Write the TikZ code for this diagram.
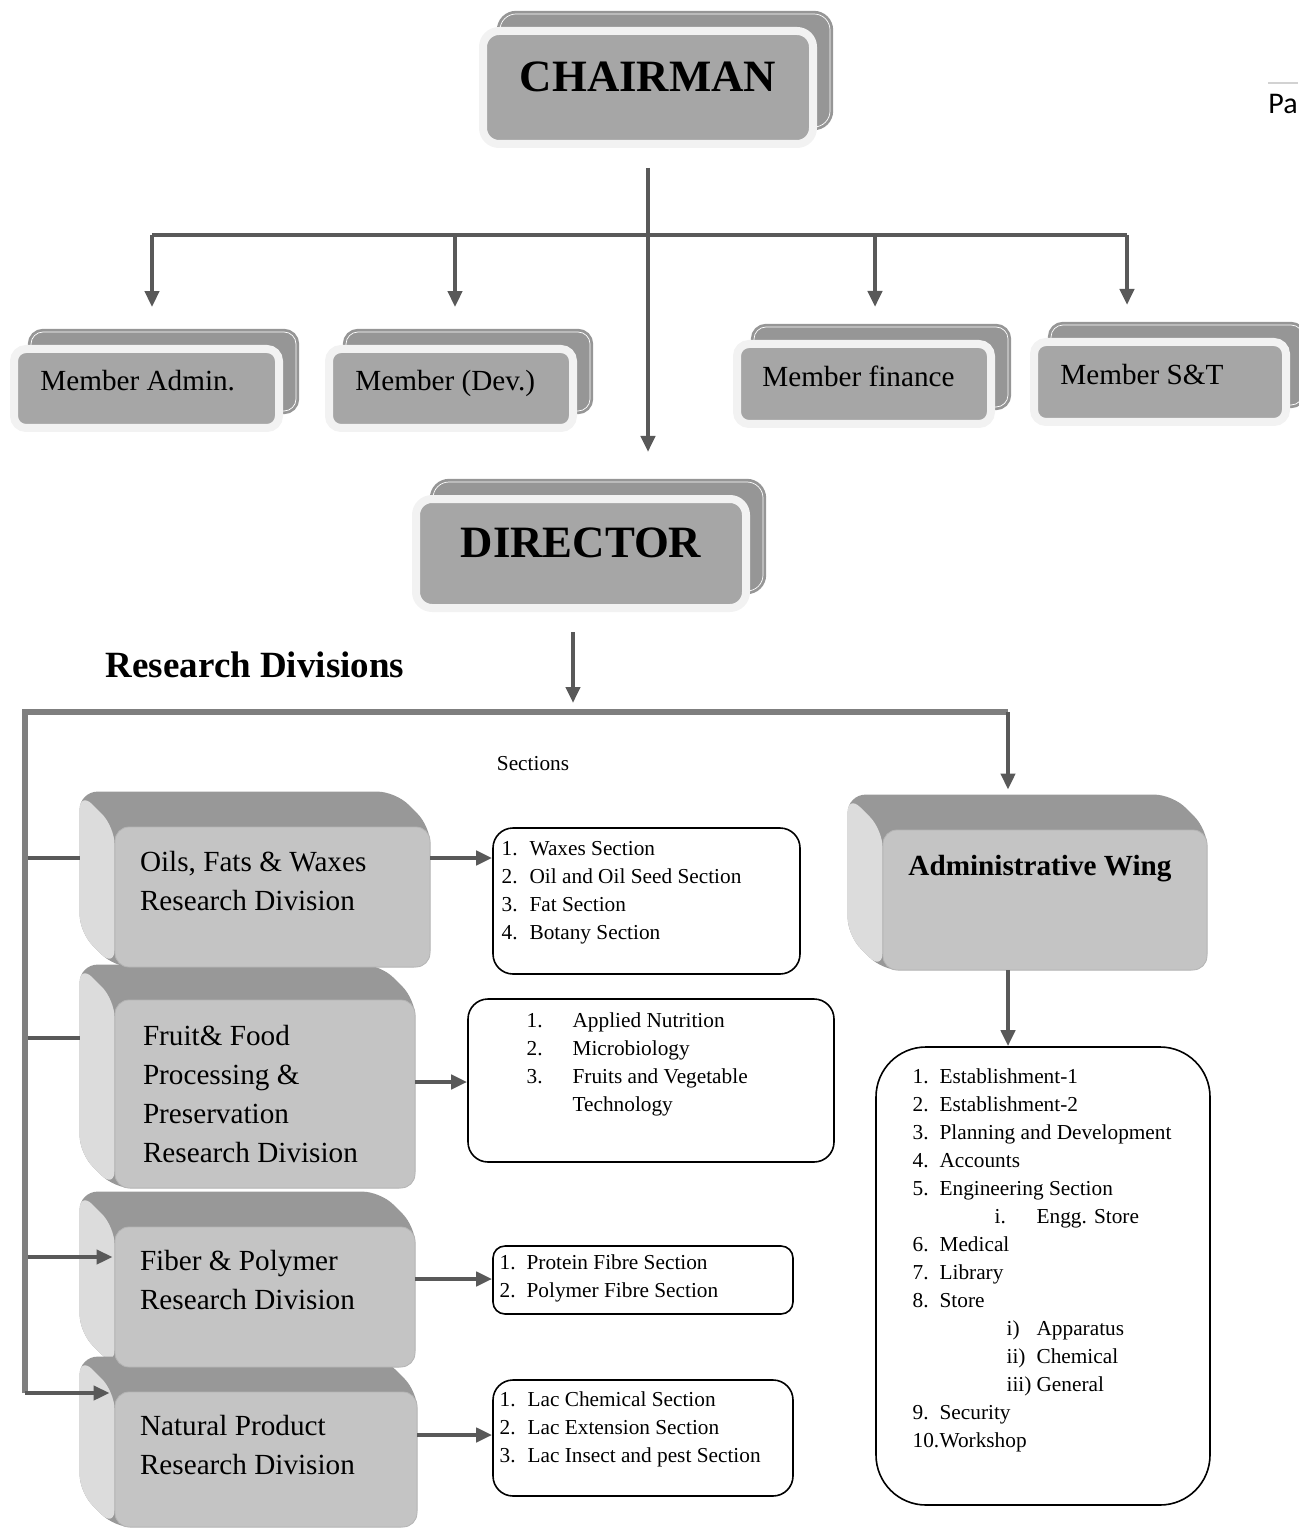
\documentclass[tikz,border=0pt]{standalone}
\usepackage{fontspec}
\setmainfont{Liberation Serif}
\newfontfamily\hdrfont{Carlito}
\usepackage{tikz}
\usetikzlibrary{arrows.meta,backgrounds,positioning}

\definecolor{linegray}{HTML}{595959}
\definecolor{railgray}{HTML}{7F7F7F}
\definecolor{backgray}{HTML}{969696}
\definecolor{frontgray}{HTML}{A6A6A6}
\definecolor{rimgray}{HTML}{F2F2F2}
\definecolor{topgray}{HTML}{989898}
\definecolor{sidegray}{HTML}{DCDCDC}
\definecolor{facegray}{HTML}{C4C4C4}

\tikzset{
  link/.style={draw=linegray, line width=2pt},
  rail/.style={draw=railgray, line width=3pt},
  backbox/.style={rectangle, rounded corners=6pt, inner sep=0pt, fill=backgray, draw=backgray, double=white, double distance=0.35pt, line width=1.4pt},
  frontbox/.style={rectangle, rounded corners=6pt, inner sep=0pt, fill=frontgray, draw=rimgray, line width=4pt},
  divface/.style={rectangle, rounded corners=7pt, inner sep=0pt, fill=facegray, draw=facegray!92!black, line width=0.4pt},
  seclist/.style={rectangle, rounded corners=10pt, inner sep=0pt, fill=white, draw=black, line width=0.8pt},
  bigtitle/.style={font=\fontsize{22.4}{27}\selectfont\bfseries, inner sep=0pt},
  boxtext/.style={font=\fontsize{14.6}{19.5}\selectfont, align=left, inner sep=0pt},
  listtext/.style={font=\fontsize{10.65}{14}\selectfont, align=left, inner sep=0pt, anchor=north west},
}
\newcommand{\itemno}[2][14pt]{\makebox[#1][l]{#2}}

\begin{document}
\begin{tikzpicture}[x=0.5pt, y=-0.5pt, >={Triangle[length=8pt,width=7pt]}]
\useasboundingbox (0,0) rectangle (1298,1529);

% chairman and members
\node[backbox, minimum width=165pt, minimum height=56.5pt, rounded corners=8pt] (chairback) at (665,70.5) {};
\node[frontbox, minimum width=165pt, minimum height=56.5pt, rounded corners=8pt] (chair) at ([shift={(-17,17)}]chairback) {};
\node[bigtitle] (chairtxt) at ([shift={(0,-10.5)}]chair) {CHAIRMAN};

\node[backbox, minimum width=132.5pt, minimum height=39.5pt] (adminback) at (163.5,371.5) {};
\node[frontbox, minimum width=132.5pt, minimum height=39.5pt] (admin) at ([shift={(-17,17)}]adminback) {};
\node[boxtext, anchor=base west] (admintxt) at ([shift={(30,2.5)}]admin.west) {Member Admin.};

\node[backbox, minimum width=122pt, minimum height=39.5pt] (devback) at (468,371.5) {};
\node[frontbox, minimum width=122pt, minimum height=39.5pt] (dev) at ([shift={(-17,17)}]devback) {};
\node[boxtext, anchor=base west] (devtxt) at ([shift={(30,2.5)}]dev.west) {Member (Dev.)};

\node[backbox, minimum width=127pt, minimum height=40pt] (finback) at (881,367) {};
\node[frontbox, minimum width=127pt, minimum height=40pt] (fin) at ([shift={(-17,17)}]finback) {};
\node[boxtext, anchor=base west] (fintxt) at ([shift={(29,3)}]fin.west) {Member finance};

\node[backbox, minimum width=126pt, minimum height=40pt] (stback) at (1177,365) {};
\node[frontbox, minimum width=126pt, minimum height=40pt] (st) at ([shift={(-17,17)}]stback) {};
\node[boxtext, anchor=base west] (sttxt) at ([shift={(30,3)}]st.west) {Member S\&T};

\node[backbox, minimum width=165pt, minimum height=54.5pt, rounded corners=8pt] (dirback) at (598,536.5) {};
\node[frontbox, minimum width=165pt, minimum height=54.5pt, rounded corners=8pt] (dir) at ([shift={(-17,17)}]dirback) {};
\node[bigtitle] (dirtxt) at ([shift={(0,-10.5)}]dir) {DIRECTOR};

\coordinate (b1) at (152,235);
\coordinate (b2) at (455,235);
\coordinate (b3) at (875,235);
\coordinate (b4) at (1127,235);
\draw[link] (b1) -- (b4);
\draw[link,->,shorten >=11.75pt] (b1) -- (b1 |- adminback.north);
\draw[link,->,shorten >=11.75pt] (b2) -- (b2 |- devback.north);
\draw[link,->,shorten >=9.3pt] (b3) -- (b3 |- finback.north);
\draw[link,->,shorten >=9.3pt] (b4) -- (b4 |- stback.north);
\draw[link,->,shorten <=10pt,shorten >=14.3pt] (chair.south) -- (chair.south |- dirback.north);

% divisions
\node[font=\fontsize{18.5}{22}\selectfont\bfseries, inner sep=0pt] (rdlabel) at (255,665) {Research Divisions};
\node[font=\fontsize{10.65}{13}\selectfont, inner sep=0pt] (seclabel) at (533,764) {Sections};

\node[divface, minimum width=157.5pt, minimum height=70pt] (oils) at (272.5,897) {};
\node[divface, minimum width=150pt, minimum height=94pt] (fruit) at (265,1094) {};
\node[divface, minimum width=150pt, minimum height=70pt] (fiber) at (265,1297) {};
\node[divface, minimum width=151pt, minimum height=67.5pt] (nat) at (266,1459.5) {};
\node[divface, minimum width=162pt, minimum height=70pt] (wing) at (1045,900) {};

\begin{scope}[on background layer]
\fill[topgray, rounded corners=9pt] ([shift={(-17.5pt,17.5pt)}]oils.north west) -- ([shift={(-17.5pt,17.5pt)}]oils.north east) -- (oils.north east) -- (oils.south east) -- (oils.south west) -- ([shift={(-17.5pt,17.5pt)}]oils.south west) -- cycle;
\fill[sidegray, rounded corners=9pt] ([shift={(-17.5pt,17.5pt)}]oils.north west) -- (oils.north west) -- (oils.south west) -- ([shift={(-17.5pt,17.5pt)}]oils.south west) -- cycle;
\fill[topgray, rounded corners=9pt] ([shift={(-17.5pt,17.5pt)}]fruit.north west) -- ([shift={(-17.5pt,17.5pt)}]fruit.north east) -- (fruit.north east) -- (fruit.south east) -- (fruit.south west) -- ([shift={(-17.5pt,17.5pt)}]fruit.south west) -- cycle;
\fill[sidegray, rounded corners=9pt] ([shift={(-17.5pt,17.5pt)}]fruit.north west) -- (fruit.north west) -- (fruit.south west) -- ([shift={(-17.5pt,17.5pt)}]fruit.south west) -- cycle;
\fill[topgray, rounded corners=9pt] ([shift={(-17.5pt,17.5pt)}]fiber.north west) -- ([shift={(-17.5pt,17.5pt)}]fiber.north east) -- (fiber.north east) -- (fiber.south east) -- (fiber.south west) -- ([shift={(-17.5pt,17.5pt)}]fiber.south west) -- cycle;
\fill[sidegray, rounded corners=9pt] ([shift={(-17.5pt,17.5pt)}]fiber.north west) -- (fiber.north west) -- (fiber.south west) -- ([shift={(-17.5pt,17.5pt)}]fiber.south west) -- cycle;
\fill[topgray, rounded corners=9pt] ([shift={(-17.5pt,17.5pt)}]nat.north west) -- ([shift={(-17.5pt,17.5pt)}]nat.north east) -- (nat.north east) -- (nat.south east) -- (nat.south west) -- ([shift={(-17.5pt,17.5pt)}]nat.south west) -- cycle;
\fill[sidegray, rounded corners=9pt] ([shift={(-17.5pt,17.5pt)}]nat.north west) -- (nat.north west) -- (nat.south west) -- ([shift={(-17.5pt,17.5pt)}]nat.south west) -- cycle;
\fill[topgray, rounded corners=9pt] ([shift={(-17.5pt,17.5pt)}]wing.north west) -- ([shift={(-17.5pt,17.5pt)}]wing.north east) -- (wing.north east) -- (wing.south east) -- (wing.south west) -- ([shift={(-17.5pt,17.5pt)}]wing.south west) -- cycle;
\fill[sidegray, rounded corners=9pt] ([shift={(-17.5pt,17.5pt)}]wing.north west) -- (wing.north west) -- (wing.south west) -- ([shift={(-17.5pt,17.5pt)}]wing.south west) -- cycle;
\end{scope}

\node[boxtext, anchor=north west] (oilstxt) at ([shift={(25,24)}]oils.north west) {Oils, Fats \& Waxes\\Research Division};
\node[boxtext, anchor=north west] (fruittxt) at ([shift={(28,25)}]fruit.north west) {Fruit\& Food\\Processing \&\\Preservation\\Research Division};
\node[boxtext, anchor=north west] (fibertxt) at ([shift={(25,23)}]fiber.north west) {Fiber \& Polymer\\Research Division};
\node[boxtext, anchor=north west] (nattxt) at ([shift={(25,23)}]nat.north west) {Natural Product\\Research Division};
\node[boxtext, font=\fontsize{14.6}{19.5}\selectfont\bfseries, anchor=base] (wingtxt) at ([shift={(-5,-25)}]wing) {Administrative Wing};

% sections
\node[seclist, minimum width=153.5pt, minimum height=73pt] (oilsec) at (646.5,901) {};
\node[seclist, minimum width=183pt, minimum height=81.5pt] (fruitsec) at (651,1080.5) {};
\node[seclist, minimum width=150pt, minimum height=34pt, rounded corners=6pt] (fibersec) at (643,1280) {};
\node[seclist, minimum width=150pt, minimum height=58pt] (natsec) at (643,1438) {};
\node[seclist, minimum width=167pt, minimum height=229pt, rounded corners=25pt] (adminsec) at (1043,1276) {};

\node[listtext] (oilslist) at ([shift={(9,13.5)}]oilsec.north west) {\itemno{1.}Waxes Section\\\itemno{2.}Oil and Oil Seed Section\\\itemno{3.}Fat Section\\\itemno{4.}Botany Section};
\node[listtext] (fruitlist) at ([shift={(59,14.5)}]fruitsec.north west) {\itemno[23pt]{1.}Applied Nutrition\\\itemno[23pt]{2.}Microbiology\\\itemno[23pt]{3.}Fruits and Vegetable\\\hspace*{23pt}Technology};
\node[listtext] (fiberlist) at ([shift={(7,9.5)}]fibersec.north west) {\itemno[13.5pt]{1.}Protein Fibre Section\\\itemno[13.5pt]{2.}Polymer Fibre Section};
\node[listtext] (natlist) at ([shift={(7,12.5)}]natsec.north west) {\itemno{1.}Lac Chemical Section\\\itemno{2.}Lac Extension Section\\\itemno{3.}Lac Insect and pest Section};
\node[listtext] (adminlist) at ([shift={(37,22.5)}]adminsec.north west) {\itemno[13.5pt]{1.}Establishment-1\\\itemno[13.5pt]{2.}Establishment-2\\\itemno[13.5pt]{3.}Planning and Development\\\itemno[13.5pt]{4.}Accounts\\\itemno[13.5pt]{5.}Engineering Section\\\hspace*{41pt}\itemno[21pt]{i.}Engg. Store\\\itemno[13.5pt]{6.}Medical\\\itemno[13.5pt]{7.}Library\\\itemno[13.5pt]{8.}Store\\\hspace*{47pt}\itemno[15pt]{i)}Apparatus\\\hspace*{47pt}\itemno[15pt]{ii)}Chemical\\\hspace*{47pt}\itemno[15pt]{iii)}General\\\itemno[13.5pt]{9.}Security\\\itemno[13.5pt]{10.}Workshop};

% connectors below director
\coordinate (split) at (573,712);
\coordinate (rdtop) at (25,712);
\coordinate (rdend) at (1008,712);
\coordinate (rdbot) at (25,1393);
\coordinate (wingtop) at ([yshift=17.5pt]wing.north);
\draw[link,->,shorten <=10pt,shorten >=4.5pt] (split |- dir.south) -- (split);
\draw[rail] (rdbot) -- (rdtop) -- (rdend);
\draw[link,->,shorten >=2.5pt] (rdend) -- (rdend |- wingtop);
\draw[link,->] (wing.south -| rdend) -- (rdend |- adminsec.north);

\draw[link,shorten <=1.5pt] ([yshift=19.5pt]oils.west -| rdtop) -- ([xshift=-17.5pt,yshift=19.5pt]oils.west);
\draw[link,shorten <=1.5pt] ([yshift=28pt]fruit.west -| rdtop) -- ([xshift=-17.5pt,yshift=28pt]fruit.west);
\draw[link,->,shorten <=1.5pt] ([yshift=20pt]fiber.west -| rdtop) -- ([xshift=-1pt,yshift=20pt]fiber.west);
\draw[link,->,shorten >=2.5pt] (rdbot) -- (rdbot -| nat.west);

\draw[link,->] ([yshift=19.5pt]oils.east) -- ([yshift=19.5pt]oils.east -| oilsec.west);
\draw[link,->] ([yshift=6pt]fruit.east) -- ([yshift=6pt]fruit.east -| fruitsec.west);
\draw[link,->] ([yshift=9pt]fiber.east) -- ([yshift=9pt]fiber.east -| fibersec.west);
\draw[link,->] ([yshift=12.25pt]nat.east) -- ([yshift=12.25pt]nat.east -| natsec.west);

% page header
\draw[gray!35, line width=1pt] (1268,83) -- (1298,83);
\node[font=\hdrfont\fontsize{15}{18}\selectfont, anchor=west, inner sep=0pt] (pagehdr) at (1268,104) {Pa};
\end{tikzpicture}
\end{document}
